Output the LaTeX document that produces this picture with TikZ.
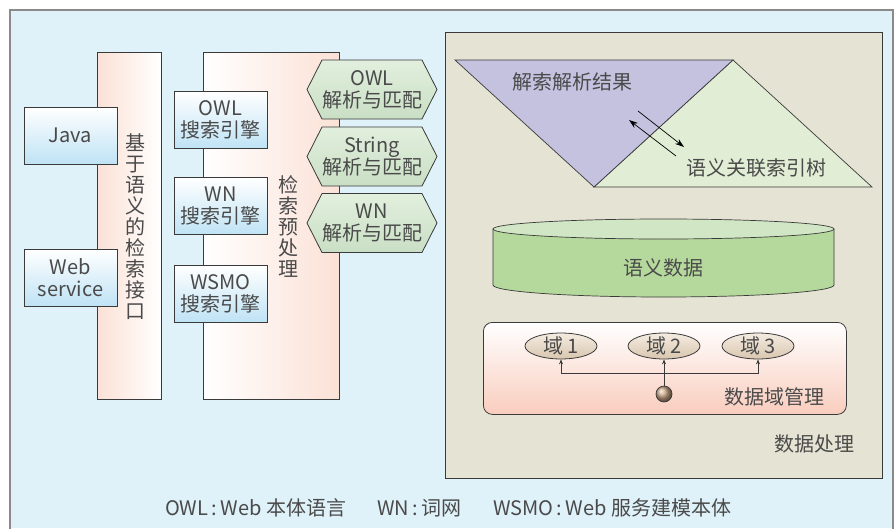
\documentclass[tikz,border=0pt]{standalone}
\usepackage{fontspec}
\setmainfont{Noto Sans CJK SC}
\usetikzlibrary{arrows.meta,shapes.geometric}
\definecolor{bgblue}{HTML}{DFF1F9}
\definecolor{framec}{HTML}{8A8A8A}
\definecolor{edgec}{HTML}{3A3A3A}
\definecolor{txt}{HTML}{4A4A4A}
\definecolor{pinkc}{HTML}{FBE1D6}
\definecolor{boxblue}{HTML}{BFE3F5}
\definecolor{hexlight}{HTML}{E2EFDE}
\definecolor{hexdark}{HTML}{C9DFC4}
\definecolor{panelc}{HTML}{E5E3D3}
\definecolor{tripurple}{HTML}{C5C2E0}
\definecolor{trigreen}{HTML}{E1EDD4}
\definecolor{cylbody}{HTML}{B5D99C}
\definecolor{cyltop}{HTML}{D0E6C4}
\definecolor{dompink}{HTML}{F9CDBE}
\definecolor{domlight}{HTML}{F4ECE2}
\definecolor{domdark}{HTML}{D9C6AE}
\definecolor{ballc}{HTML}{CBA886}
\begin{document}
\begin{tikzpicture}[x=1pt,y=-1pt,
  every node/.style={text=txt, font=\fontsize{20}{22}\selectfont, inner sep=0pt, align=center},
  pinkbox/.style={draw=edgec, line width=0.8pt, minimum height=347pt, anchor=north west},
  bluebox/.style={draw=edgec, line width=0.8pt, top color=white, bottom color=boxblue, minimum width=93pt, minimum height=57pt},
  hexshape/.style={draw=edgec, line width=0.8pt, top color=hexlight, bottom color=hexdark, line join=round},
  vtext/.style={font=\fontsize{20}{21}\selectfont},
  dom/.style={ellipse, draw=edgec, line width=0.8pt, top color=domlight, bottom color=domdark, minimum width=72pt, minimum height=25pt},
  darr/.style={-{Stealth[length=5pt,width=4pt]}, draw=edgec, line width=0.7pt},
  tarr/.style={-{Stealth[length=9pt,width=6pt]}, draw=black, line width=0.7pt}
]
\useasboundingbox (0,0) rectangle (895,528);
\fill[white] (0,0) rectangle (895,528);
\fill[bgblue] (10,10) rectangle (893,528);
\draw[framec, line width=2pt] (10,530) -- (10,10) -- (893,10) -- (893,530);

% left interface column
\node (iface) [pinkbox, left color=pinkc, right color=white, minimum width=64pt] at (97,52) {};
\node (ifacelbl) [vtext] at (135,227) {基\\于\\语\\义\\的\\检\\索\\接\\口};
\node (java) [bluebox] at (70.5,135.5) {Java};
\node (websvc) [bluebox] at (70.5,277.5) {Web\\service};

% preprocessing column
\node (prep) [pinkbox, left color=white, right color=pinkc, minimum width=136pt] at (203,52) {};
\node (preplbl) [vtext] at (288,226.5) {检\\索\\预\\处\\理};
\node (owlse) [bluebox] at (220.5,120) {OWL\\搜索引擎};
\node (wnse) [bluebox] at (220.5,206) {WN\\搜索引擎};
\node (wsmose) [bluebox] at (220.5,293.5) {WSMO\\搜索引擎};

% hexagons
\foreach \c/\n/\t in {89.5/hexowl/OWL, 156.5/hexstr/String, 223/hexwn/WN}{
  \path[hexshape] (307,\c) -- (322,\c-29.5) -- (422,\c-29.5) -- (437,\c) -- (422,\c+29.5) -- (322,\c+29.5) -- cycle;
  \node (\n) at (372,\c) {\t\\解析与匹配};
}

% data processing panel
\node (dp) [draw=edgec, line width=1pt, fill=panelc, minimum width=437pt, minimum height=446pt, anchor=north west] at (445,32) {};

% triangles
\filldraw[fill=trigreen, draw=edgec, line width=0.7pt] (594,187) -- (733,60) -- (872,187) -- cycle;
\filldraw[fill=tripurple, draw=edgec, line width=0.7pt] (455,60) -- (733,60) -- (594,187) -- cycle;
\node (res) at (572,82) {解索解析结果};
\node (tree) at (756,168) {语义关联索引树};
\coordinate (a1s) at (638,111);
\coordinate (a1e) at (684,147);
\coordinate (a2s) at (676,156);
\coordinate (a2e) at (629,120);
\draw[tarr] (a1s) -- (a1e);
\draw[tarr] (a2s) -- (a2e);

% cylinder
\filldraw[fill=cylbody, draw=edgec, line width=0.7pt] (493,229) -- (493,285) arc[start angle=180, end angle=360, x radius=170.5pt, y radius=12pt] -- (834,229) -- cycle;
\filldraw[fill=cyltop, draw=edgec, line width=0.7pt] (663.5,229) ellipse[x radius=170.5pt, y radius=10pt];
\node (sdata) at (663.5,268) {语义数据};

% domain management
\node (dm) [draw=edgec, line width=0.8pt, rounded corners=9pt, top color=white, bottom color=dompink, minimum width=363pt, minimum height=92pt, anchor=north west] at (483,322) {};
\node (d1) [dom] at (561,346) {域 1};
\node (d2) [dom] at (664,346) {域 2};
\node (d3) [dom] at (758,346) {域 3};
\node (hub) [circle, draw=edgec, line width=0.7pt, shading=ball, ball color=ballc, minimum size=16pt] at (664,394) {};
\coordinate (jn) at (664,373);
\draw[darr] (jn) -| (d1.south);
\draw[darr] (jn) -| (d3.south);
\draw[darr] (hub.north) -- (d2.south);
\node (dmlbl) at (774,397) {数据域管理};
\node (dplbl) at (814,444) {数据处理};

% footnote
\node (fn1) [anchor=west] at (165,508) {OWL\,:\,Web 本体语言};
\node (fn2) [anchor=west] at (377,508) {WN\,:\,词网};
\node (fn3) [anchor=west] at (493,508) {WSMO\,:\,Web 服务建模本体};
\end{tikzpicture}
\end{document}
